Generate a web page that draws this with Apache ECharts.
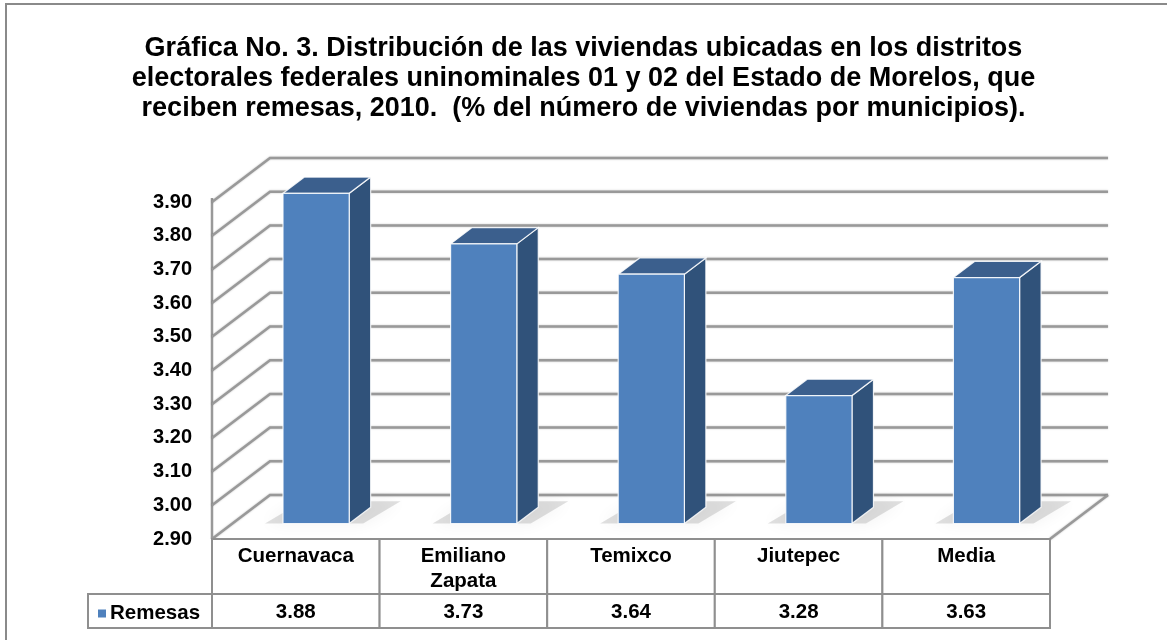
<!DOCTYPE html>
<html>
<head>
<meta charset="utf-8">
<script src="https://cdn.jsdelivr.net/npm/echarts@6/dist/echarts.min.js"></script>
<style>
  html, body { margin: 0; padding: 0; background: #fff; }
  #main { width: 1167px; height: 640px; }
</style>
</head>
<body>
<div id="main"></div>
<script>
// data
const categories = ["Cuernavaca", "Emiliano\nZapata", "Temixco", "Jiutepec", "Media"];
const remesas = [3.88, 3.73, 3.64, 3.28, 3.63];
const valueLabels = ["3.88", "3.73", "3.64", "3.28", "3.63"];
const yTicks = [2.9, 3.0, 3.1, 3.2, 3.3, 3.4, 3.5, 3.6, 3.7, 3.8, 3.9];
const seriesName = "Remesas";

const yMin = 2.9, yMax = 3.9;
// 3d depth offset of the back wall
const DX = 58, DY = 44;
const F0 = 0.35, F1 = 0.72;
const FONT = "'Liberation Sans', Arial, sans-serif";
const LINE = "#999999";
const TABLE = "#8f8f8f";
const ROW1 = 55, ROW2 = 34;
const TFONT = "bold 20.5px " + FONT;

const chart = echarts.init(document.getElementById("main"));

// walls + gridlines
function renderGrid(params, api) {
  const cs = params.coordSys;
  const v = api.value(0);
  const p = api.coord([0, v]);
  const y = p[1];
  const x0 = cs.x, x1 = cs.x + cs.width;
  const children = [{
    type: "polyline",
    shape: { points: [[x0, y], [x0 + DX, y - DY], [x1 + DX, y - DY]] },
    style: { stroke: LINE, lineWidth: 2.5, fill: null, shadowBlur: 2, shadowColor: "rgba(0,0,0,0.25)" }
  }];
  if (params.dataIndex === 0) {
    children.push({
      type: "line",
      shape: { x1: x1, y1: y, x2: x1 + DX, y2: y - DY },
      style: { stroke: LINE, lineWidth: 2.5, shadowBlur: 2, shadowColor: "rgba(0,0,0,0.25)" }
    });
    children.push({
      type: "line",
      shape: { x1: x0, y1: cs.y - 4, x2: x0, y2: y },
      style: { stroke: LINE, lineWidth: 2.5 }
    });
  }
  return { type: "group", children: children };
}

function renderBar(params, api) {
  const i = api.value(0), v = api.value(1);
  const top = api.coord([i, v]);
  const base = api.coord([i, yMin]);
  const band = api.size([1, 0])[0];
  const w = band * 0.395;
  const x0 = top[0] - w / 2 + DX * F0;
  const x1 = x0 + w;
  const yT = top[1] - DY * F0;
  const yB = base[1] - DY * F0;
  const ddx = DX * (F1 - F0), ddy = DY * (F1 - F0);
  const edge = "rgba(255,255,255,0.85)";
  return {
    type: "group",
    children: [
      {
        type: "polygon",
        shape: { points: [[x0 - 18, yB], [x0 - 2 + ddx, yB - ddy - 6], [x1 + ddx + 30, yB - ddy - 6], [x1 + 14, yB]] },
        style: { fill: "rgba(0,0,0,0.12)", shadowBlur: 16, shadowColor: "rgba(0,0,0,0.45)" }
      },
      {
        type: "polygon",
        shape: { points: [[x1, yT], [x1 + ddx, yT - ddy], [x1 + ddx, yB - ddy], [x1, yB]] },
        style: { fill: "#30527A", stroke: edge, lineWidth: 1.2 }
      },
      {
        type: "polygon",
        shape: { points: [[x0, yT], [x0 + ddx, yT - ddy], [x1 + ddx, yT - ddy], [x1, yT]] },
        style: { fill: "#3B5F8D", stroke: edge, lineWidth: 1.2 }
      },
      {
        type: "rect",
        shape: { x: x0, y: yT, width: w, height: yB - yT },
        style: { fill: "#4F81BD", stroke: edge, lineWidth: 1.2 }
      }
    ]
  };
}

function renderTable(params, api) {
  const cs = params.coordSys;
  const i = api.value(0);
  const base = api.coord([i, yMin]);
  const band = api.size([1, 0])[0];
  const cx = base[0];
  const left = cx - band / 2;
  const y = base[1];
  const children = [
    {
      type: "rect",
      shape: { x: left, y: y, width: band, height: ROW1 },
      style: { fill: "#fff", stroke: TABLE, lineWidth: 2 }
    },
    {
      type: "rect",
      shape: { x: left, y: y + ROW1, width: band, height: ROW2 },
      style: { fill: "#fff", stroke: TABLE, lineWidth: 2 }
    },
    {
      type: "text",
      style: {
        x: cx, y: y + 5, text: categories[i], align: "center", verticalAlign: "top",
        font: TFONT, lineHeight: 25, fill: "#000"
      }
    },
    {
      type: "text",
      style: {
        x: cx, y: y + ROW1 + ROW2 / 2 + 1, text: valueLabels[i], align: "center", verticalAlign: "middle",
        font: TFONT, fill: "#000"
      }
    }
  ];
  if (i === 0) {
    children.push({
      type: "rect",
      shape: { x: cs.x - 124, y: y + ROW1, width: 124, height: ROW2 },
      style: { fill: null, stroke: TABLE, lineWidth: 2 }
    });
  }
  return { type: "group", children: children };
}

const option = {
  animation: false,
  backgroundColor: "#fff",
  title: {
    text: "Gráfica No. 3. Distribución de las viviendas ubicadas en los distritos\nelectorales federales uninominales 01 y 02 del Estado de Morelos, que\nreciben remesas, 2010.  (% del número de viviendas por municipios).",
    left: "center",
    top: 29,
    padding: [5, 0, 5, 10],
    textStyle: { fontFamily: FONT, fontSize: 27, fontWeight: "bold", color: "#000", lineHeight: 30 }
  },
  legend: {
    data: [seriesName],
    left: 93,
    top: 598,
    icon: "rect",
    itemWidth: 8,
    itemHeight: 8,
    itemGap: 4,
    textStyle: { fontFamily: FONT, fontSize: 20.5, fontWeight: "bold", color: "#000", padding: [0, 0, 0, -1] }
  },
  grid: { left: 212, right: 117, top: 202, bottom: 101 },
  xAxis: {
    type: "category",
    data: categories,
    show: false
  },
  yAxis: {
    type: "value",
    min: yMin,
    max: yMax,
    interval: 0.1,
    axisLine: { show: false },
    axisTick: { show: false },
    splitLine: { show: false },
    axisLabel: {
      margin: 20,
      formatter: v => v.toFixed(2),
      fontFamily: FONT,
      fontSize: 20,
      fontWeight: "bold",
      color: "#000"
    }
  },
  graphic: [{
    type: "rect",
    shape: { x: 6, y: 4, width: 1300, height: 800 },
    style: { fill: null, stroke: "#8a8a8a", lineWidth: 2 },
    silent: true
  }],
  series: [
    {
      type: "custom",
      renderItem: renderGrid,
      data: yTicks.map(t => [t]),
      encode: { y: 0 },
      clip: false,
      silent: true,
      z: 1
    },
    {
      name: seriesName,
      type: "custom",
      renderItem: renderBar,
      itemStyle: { color: "#4F81BD" },
      data: remesas.map((v, i) => [i, v]),
      encode: { x: 0, y: 1 },
      clip: false,
      z: 3
    },
    {
      type: "custom",
      renderItem: renderTable,
      data: remesas.map((v, i) => [i, v]),
      encode: { x: 0, y: 1 },
      clip: false,
      silent: true,
      z: 4
    }
  ]
};

chart.setOption(option);
</script>
</body>
</html>
